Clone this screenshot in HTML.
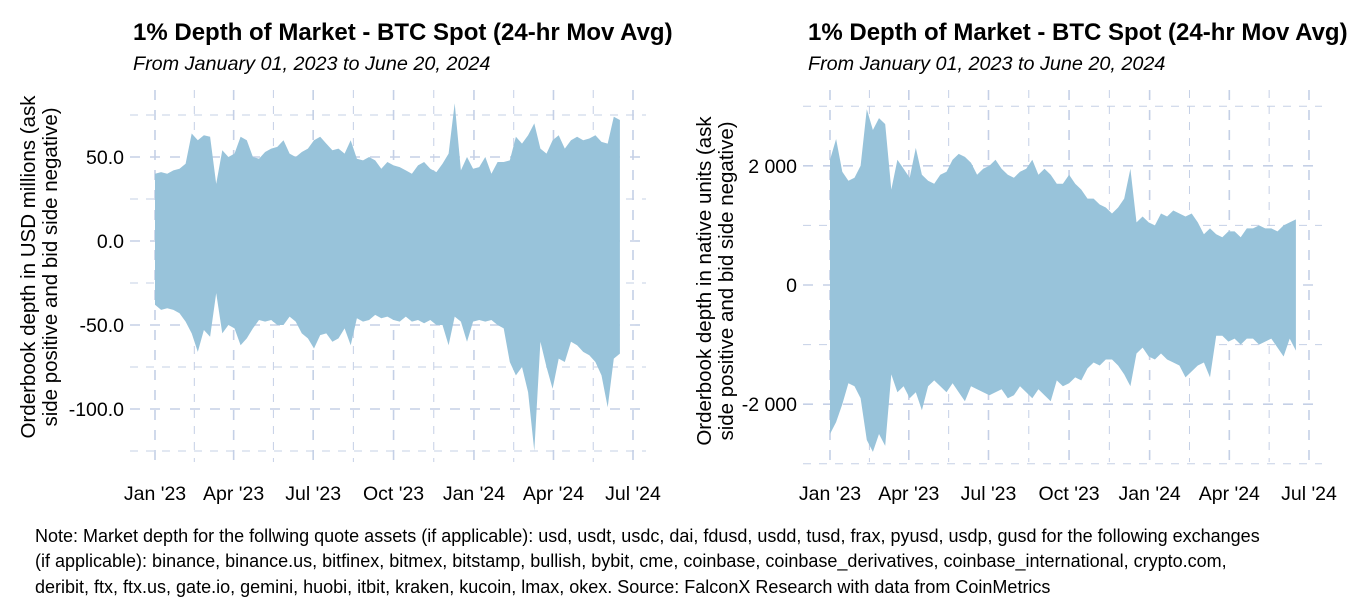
<!DOCTYPE html>
<html><head><meta charset="utf-8"><style>
body{margin:0;background:#fff;font-family:"Liberation Sans",Arial,sans-serif}
svg{display:block}
</style></head><body>
<svg id="chart" width="1350" height="600" xmlns="http://www.w3.org/2000/svg" font-family="Liberation Sans, Arial, sans-serif">
<rect width="1350" height="600" fill="#fff"/>
<g id="left"></g>
<g id="right"></g>
<text x="133" y="40" font-size="24" font-weight="bold">1% Depth of Market - BTC Spot (24-hr Mov Avg)</text>
<text x="133" y="70" font-size="19.8" font-style="italic">From January 01, 2023 to June 20, 2024</text>
<text x="808" y="40" font-size="24" font-weight="bold">1% Depth of Market - BTC Spot (24-hr Mov Avg)</text>
<text x="808" y="70" font-size="19.8" font-style="italic">From January 01, 2023 to June 20, 2024</text>
<text transform="translate(35,267) rotate(-90)" font-size="20.5" text-anchor="middle"><tspan x="0" y="0">Orderbook depth in USD millions (ask</tspan><tspan x="0" y="22">side positive and bid side negative)</tspan></text>
<text transform="translate(711,281) rotate(-90)" font-size="20.5" text-anchor="middle"><tspan x="0" y="0">Orderbook depth in native units (ask</tspan><tspan x="0" y="22">side positive and bid side negative)</tspan></text>
<g font-size="18">
<text x="35" y="542">Note: Market depth for the follwing quote assets (if applicable): usd, usdt, usdc, dai, fdusd, usdd, tusd, frax, pyusd, usdp, gusd for the following exchanges</text>
<text x="35" y="567">(if applicable): binance, binance.us, bitfinex, bitmex, bitstamp, bullish, bybit, cme, coinbase, coinbase_derivatives, coinbase_international, crypto.com,</text>
<text x="35" y="593">deribit, ftx, ftx.us, gate.io, gemini, huobi, itbit, kraken, kucoin, lmax, okex. Source: FalconX Research with data from CoinMetrics</text>
</g>
</svg>
<script>
const xTickLabels = ["Jan '23","Apr '23","Jul '23","Oct '23","Jan '24","Apr '24","Jul '24"];
const xTickDays = [0,90,181,273,365,456,547];
const weekStepDays = 7;
const usdUpper = [40,41,40,42,43,46,64,60,63,62,34,54,50,52,62,60,50,49,53,55,56,60,52,50,53,55,60,62,58,54,55,52,60,49,48,50,48,43,47,45,44,42,40,45,47,43,41,46,52,82,42,50,43,44,50,40,47,47,48,62,58,63,70,55,52,60,63,55,60,62,60,61,63,59,58,74,72];
const usdLower = [-38,-41,-40,-41,-43,-48,-55,-66,-53,-57,-31,-55,-50,-52,-62,-58,-52,-47,-48,-47,-50,-50,-45,-48,-55,-58,-64,-56,-55,-60,-58,-52,-62,-46,-48,-47,-44,-46,-45,-47,-48,-45,-48,-47,-49,-47,-50,-50,-62,-45,-48,-60,-48,-47,-48,-47,-50,-52,-72,-80,-75,-90,-125,-60,-75,-88,-70,-72,-60,-62,-66,-68,-72,-80,-99,-70,-67];
const usdTicks = [50,0,-50,-100];
const usdTickLabels = ["50.0","0.0","-50.0","-100.0"];
const usdMinorTicks = [75,25,-25,-75,-125];
const btcUpper = [2100,2450,1900,1750,1800,2000,2950,2600,2800,2700,1600,2100,1950,1800,2300,1850,1750,1700,1850,1900,2100,2200,2150,2050,1850,1950,2000,2100,1950,1850,1800,1900,1950,2100,1850,1950,1850,1700,1700,1850,1700,1600,1450,1450,1350,1300,1200,1300,1450,1950,1050,1150,1050,1000,1200,1150,1250,1200,1150,1200,1050,850,950,850,800,900,900,800,950,950,1000,950,950,900,1000,1050,1100];
const btcLower = [-2500,-2300,-2000,-1650,-1700,-1900,-2600,-2800,-2500,-2700,-1500,-1800,-1700,-1900,-1800,-2100,-1700,-1600,-1700,-1800,-1650,-1800,-1950,-1700,-1750,-1800,-1850,-1800,-1750,-1900,-1850,-1700,-1800,-1900,-1750,-1850,-1950,-1600,-1700,-1650,-1550,-1600,-1400,-1300,-1350,-1250,-1250,-1350,-1500,-1700,-1150,-1050,-1200,-1250,-1150,-1250,-1300,-1350,-1550,-1450,-1350,-1300,-1550,-850,-850,-950,-900,-1000,-900,-900,-1000,-950,-900,-1050,-1200,-900,-1100];
const btcTicks = [2000,0,-2000];
const btcTickLabels = ["2 000","0","-2 000"];
const btcMinorTicks = [3000,1000,-1000,-3000];

const NS="http://www.w3.org/2000/svg";
function mk(parent,tag,attrs){const e=document.createElementNS(NS,tag);for(const k in attrs)e.setAttribute(k,attrs[k]);parent.appendChild(e);return e;}

function drawPanel(g,cfg){
  const xs=d=>cfg.x0+d*(cfg.x1-cfg.x0)/547;
  const ys=v=>cfg.yZero-v*cfg.pxPerUnit;
  const grid="#c5d0e6";
  for(let i=0;i<xTickDays.length-1;i++){
    const d=(xTickDays[i]+xTickDays[i+1])/2;
    const l=mk(g,'line',{x1:xs(d),x2:xs(d),y1:cfg.top,y2:cfg.bottom,stroke:grid,'stroke-width':1,'stroke-dasharray':'8,8'});
    
    
  }
  cfg.minor.forEach(v=>{
    const l=mk(g,'line',{x1:cfg.left,x2:cfg.right,y1:ys(v),y2:ys(v),stroke:grid,'stroke-width':1,'stroke-dasharray':'8,8'});
    
    
  });
  xTickDays.forEach(d=>{
    const l=mk(g,'line',{x1:xs(d),x2:xs(d),y1:cfg.top,y2:cfg.bottom,stroke:grid,'stroke-width':1.6,'stroke-dasharray':'10,10'});
    
    
  });
  cfg.ticks.forEach(v=>{
    const l=mk(g,'line',{x1:cfg.left,x2:cfg.right,y1:ys(v),y2:ys(v),stroke:grid,'stroke-width':1.6,'stroke-dasharray':'10,10'});
    
    
  });
  let pts=[];
  cfg.upper.forEach((v,i)=>pts.push(xs(i*weekStepDays).toFixed(1)+','+ys(v).toFixed(1)));
  for(let i=cfg.lower.length-1;i>=0;i--)pts.push(xs(i*weekStepDays).toFixed(1)+','+ys(cfg.lower[i]).toFixed(1));
  const a=mk(g,'polygon',{points:pts.join(' '),fill:'#98c3da'});
  
  
  cfg.ticks.forEach((v,i)=>{
    const t=mk(g,'text',{x:cfg.left-6,y:ys(v)+7,'font-size':19.5,'text-anchor':'end',fill:'#000'});
    t.textContent=cfg.tickLabels[i];
    
    
  });
  xTickDays.forEach((d,i)=>{
    const t=mk(g,'text',{x:xs(d),y:500,'font-size':19.5,'text-anchor':'middle',fill:'#000'});
    t.textContent=xTickLabels[i];
    
    
  });
}
drawPanel(document.getElementById('left'),{x0:155,x1:633,left:130,right:646,top:90,bottom:462,yZero:241,pxPerUnit:84/50,upper:usdUpper,lower:usdLower,ticks:usdTicks,tickLabels:usdTickLabels,minor:usdMinorTicks});
drawPanel(document.getElementById('right'),{x0:830,x1:1309,left:803,right:1322,top:90,bottom:462,yZero:285,pxPerUnit:59.6/1000,upper:btcUpper,lower:btcLower,ticks:btcTicks,tickLabels:btcTickLabels,minor:btcMinorTicks});
</script>
</body></html>
